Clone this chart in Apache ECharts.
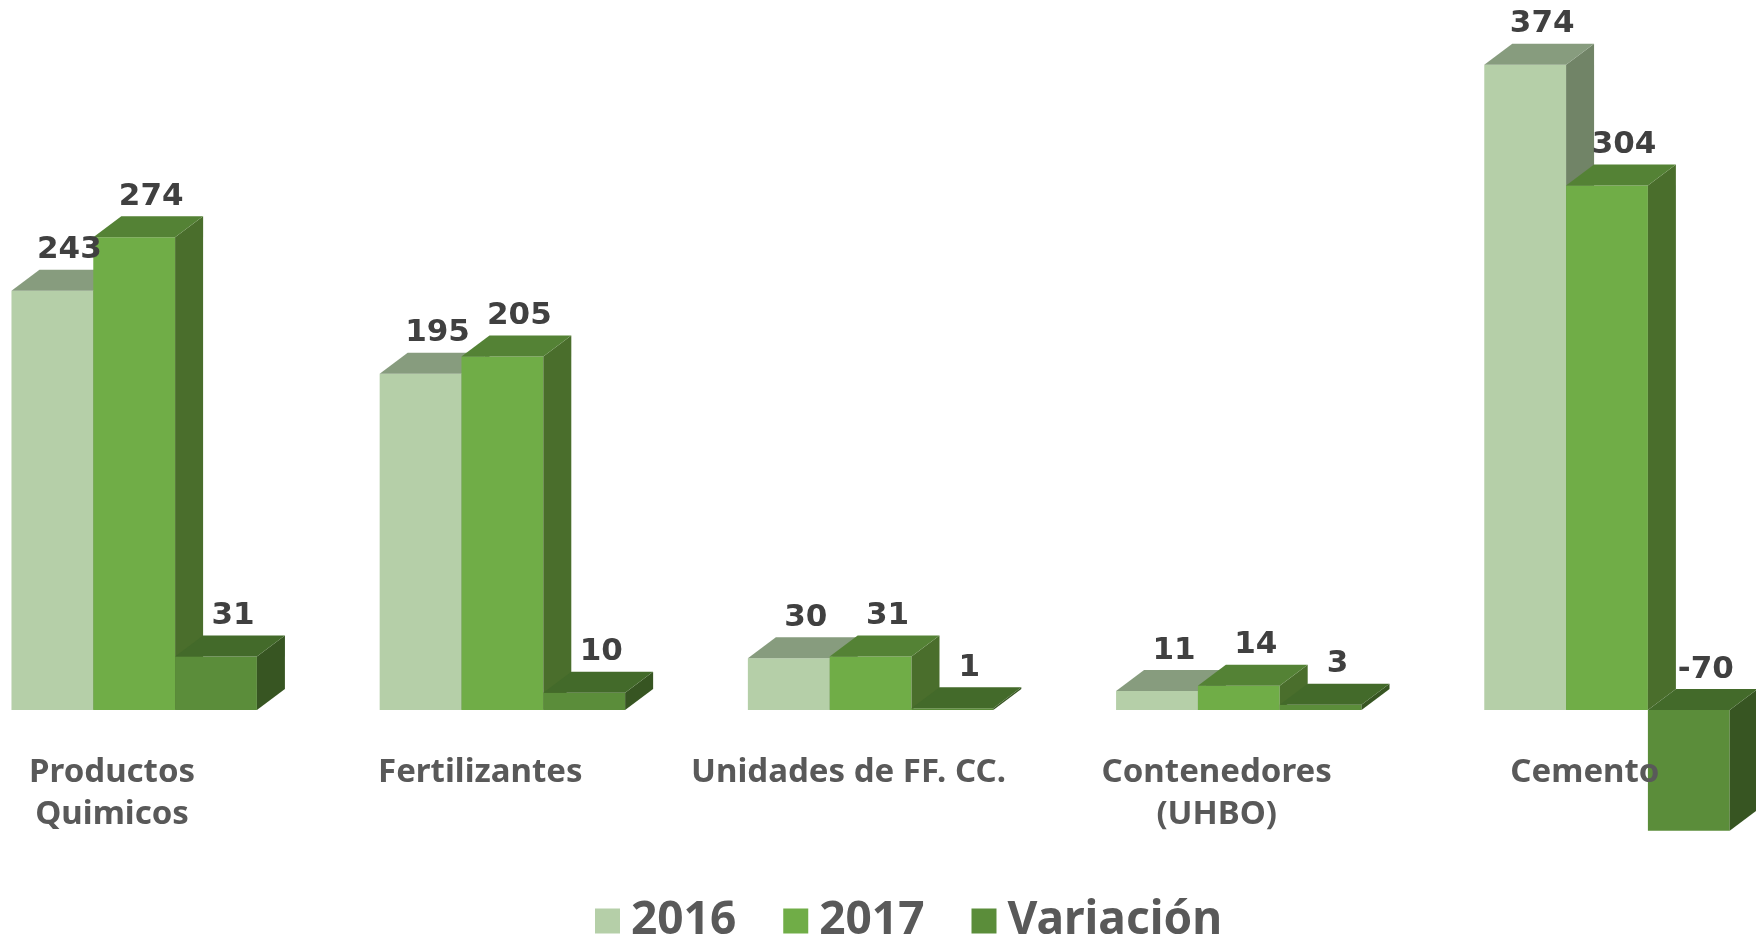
<!DOCTYPE html>
<html>
<head>
<meta charset="utf-8">
<script src="https://cdn.jsdelivr.net/npm/echarts@6/dist/echarts.min.js"></script>
<style>
  html, body { margin: 0; padding: 0; background: #fff; }
  #chart { width: 1756px; height: 939px; }
</style>
</head>
<body>
<div id="chart"></div>
<script>
// datos
var categorias = ['Productos\nQuimicos', 'Fertilizantes', 'Unidades de FF. CC.', 'Contenedores\n(UHBO)', 'Cemento'];
var nombres = ['2016', '2017', 'Variación'];
var v2016 = [243, 195, 30, 11, 374];
var v2017 = [274, 205, 31, 14, 304];
var variacion = [31, 10, 1, 3, -70];

// colores: frente, tapa, lado
var colores = [
    ['#b5cfa8', '#879c7e', '#718467'],
    ['#70ad47', '#548235', '#4a6e2c'],
    ['#5b8d3a', '#436a2a', '#375522']
];
var DX = 28, DY = 21;

var chart = echarts.init(document.getElementById('chart'));

function geom(api, k) {
    var ci = api.value(0), v = api.value(1);
    var base = api.coord([ci, 0]);
    var tope = api.coord([ci, v]);
    var band = api.size([1, 0])[0];
    var bw = band * 0.2222;
    var x0 = base[0] + band * 0.06 - 1.5 * bw + k * bw;
    return {
        x0: x0, x1: x0 + bw,
        yT: Math.min(base[1], tope[1]),
        yB: Math.max(base[1], tope[1]),
        v: v
    };
}

function barras(k) {
    return function (params, api) {
        var g = geom(api, k);
        var c = colores[k];
        return {
            type: 'group',
            children: [
                {type: 'rect', shape: {x: g.x0, y: g.yT, width: g.x1 - g.x0, height: g.yB - g.yT}, style: {fill: c[0]}},
                {type: 'polygon', shape: {points: [[g.x1, g.yT], [g.x1 + DX, g.yT - DY], [g.x1 + DX, g.yB - DY], [g.x1, g.yB]]}, style: {fill: c[2]}},
                {type: 'polygon', shape: {points: [[g.x0, g.yT], [g.x1, g.yT], [g.x1 + DX, g.yT - DY], [g.x0 + DX, g.yT - DY]]}, style: {fill: c[1]}}
            ]
        };
    };
}

function etiquetas(k) {
    return function (params, api) {
        var g = geom(api, k);
        return {
            type: 'text',
            x: (g.x0 + g.x1) / 2 + DX / 2 + 3,
            y: g.yT - DY - 4,
            style: {
                text: String(g.v),
                fill: '#404040',
                font: 'bold 31px "DejaVu Sans"',
                align: 'center',
                verticalAlign: 'bottom'
            }
        };
    };
}

var datos = [v2016, v2017, variacion];
var series = [];
datos.forEach(function (vals, k) {
    series.push({
        name: nombres[k],
        type: 'custom',
        renderItem: barras(k),
        itemStyle: {color: colores[k][0]},
        encode: {x: 0, y: 1},
        z: 2,
        data: vals.map(function (v, i) { return [i, v]; })
    });
});
datos.forEach(function (vals, k) {
    series.push({
        name: nombres[k],
        type: 'custom',
        renderItem: etiquetas(k),
        itemStyle: {color: colores[k][0]},
        encode: {x: 0, y: 1},
        z: 10,
        silent: true,
        data: vals.map(function (v, i) { return [i, v]; })
    });
});

var option = {
    animation: false,
    grid: {left: -72, right: -13, top: 20, bottom: 56.5, containLabel: false, outerBoundsMode: 'none'},
    legend: {
        data: nombres,
        left: 590,
        top: 893,
        icon: 'rect',
        itemWidth: 25,
        itemHeight: 25,
        itemGap: 47,
        selectedMode: false,
        textStyle: {
            color: '#595959',
            fontSize: 46,
            fontWeight: 'bold',
            fontFamily: 'Noto Sans',
            padding: [0, 0, 0, 6]
        }
    },
    xAxis: {
        type: 'category',
        data: categorias,
        z: 20,
        axisLine: {show: false, onZero: false},
        axisTick: {show: false},
        axisLabel: {
            interval: 0,
            margin: -131,
            color: '#595959',
            fontSize: 33,
            fontWeight: 'bold',
            fontFamily: 'Noto Sans',
            lineHeight: 42
        }
    },
    yAxis: {
        type: 'value',
        min: -100,
        max: 400,
        show: false,
        splitLine: {show: false}
    },
    series: series
};

chart.setOption(option);
</script>
</body>
</html>
